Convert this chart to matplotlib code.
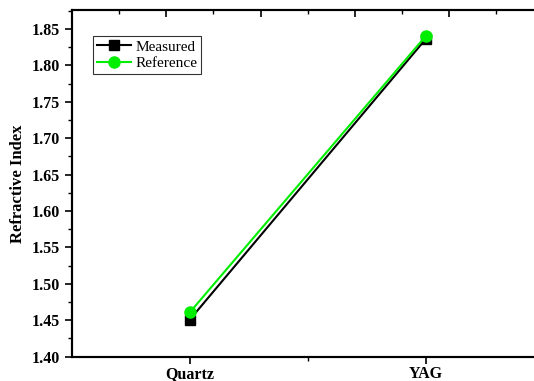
import matplotlib.pyplot as plt
from matplotlib.ticker import MultipleLocator, FixedLocator

# Data
samples = ["Quartz", "YAG"]
measured = [1.451, 1.836]
reference = [1.461, 1.840]

plt.rcParams['font.family'] = ['Liberation Serif', 'DejaVu Serif']

fig = plt.figure(figsize=(5.34, 3.81), dpi=100)
# axes runs past the right edge (cropped like the original)
ax = fig.add_axes([72 / 534, 1 - 356.7 / 381, (543.5 - 72) / 534, (356.7 - 10) / 381])

x = [1, 2]
ax.plot(x, measured, '-s', color='black', lw=1.5, ms=6.5, label='Measured')
ax.plot(x, reference, '-o', color='#00ee00', lw=1.5, ms=8, label='Reference')

ax.set_xlim(0.5, 2.5)
ax.set_ylim(1.40, 1.876)
ax.set_xticks(x)
ax.set_xticklabels(samples, fontsize=11.5, fontweight='bold')
ax.xaxis.set_minor_locator(FixedLocator([1.5]))
ax.yaxis.set_major_locator(MultipleLocator(0.05))
ax.yaxis.set_minor_locator(MultipleLocator(0.025))
ax.yaxis.set_major_formatter(plt.FormatStrFormatter('%.2f'))
for lab in ax.get_yticklabels():
    lab.set_fontweight('bold')
    lab.set_fontsize(11.5)
ax.tick_params(which='major', length=5, width=1.2, direction='out')
ax.tick_params(which='minor', length=3, width=1.0, direction='out')
ax.tick_params(axis='x', which='major', pad=1.5)
ax.set_ylabel('Refractive Index', fontsize=12, fontweight='bold', labelpad=4)

for s in ax.spines.values():
    s.set_linewidth(1.5)

# top axis has its own inward tick spacing, no labels
top = ax.twiny()
top.set_xlim(0.5, 2.5)
top.xaxis.set_major_locator(FixedLocator([0.9, 1.3, 1.7, 2.1, 2.5]))
top.xaxis.set_minor_locator(FixedLocator([0.7, 1.1, 1.5, 1.9, 2.3]))
top.tick_params(which='major', length=5, width=1.2, direction='in', labeltop=False)
top.tick_params(which='minor', length=3, width=1.0, direction='in')
for s in top.spines.values():
    s.set_linewidth(1.5)

leg = ax.legend(loc='upper left', bbox_to_anchor=(0.045, 0.925), fontsize=11,
                frameon=True, fancybox=False, edgecolor='black', handlelength=2.2,
                borderpad=0.25, labelspacing=0.2, handletextpad=0.3, borderaxespad=0)
leg.get_frame().set_linewidth(0.8)

fig.savefig('out.png', dpi=100)
